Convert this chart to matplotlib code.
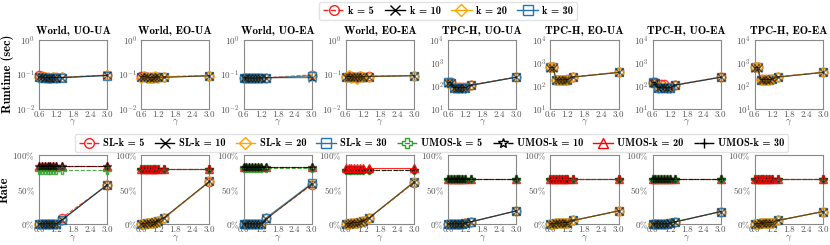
import matplotlib.pyplot as plt
from matplotlib.lines import Line2D
from matplotlib.ticker import NullLocator, FixedLocator

plt.rcParams['font.family'] = 'serif'
plt.rcParams['font.serif'] = ['cmr10']
plt.rcParams['mathtext.fontset'] = 'cm'
plt.rcParams['axes.formatter.use_mathtext'] = True

# gamma values on the x axis
gamma = [0.6, 0.7, 0.8, 0.9, 1.0, 1.1, 1.2, 1.4, 3.0]

titles = ['World, UO-UA', 'World, EO-UA', 'World, UO-EA', 'World, EO-EA',
          'TPC-H, UO-UA', 'TPC-H, EO-UA', 'TPC-H, UO-EA', 'TPC-H, EO-EA']
k_values = [5, 10, 20, 30]

# runtime (sec): one list per k (5, 10, 20, 30)
rt_world_uo_ua = [[0.095, 0.088, 0.085, 0.083, 0.080, 0.086, 0.082, 0.082, 0.095],
                  [0.085, 0.083, 0.080, 0.080, 0.079, 0.080, 0.080, 0.080, 0.093],
                  [0.086, 0.084, 0.081, 0.080, 0.080, 0.081, 0.080, 0.081, 0.093],
                  [0.084, 0.080, 0.076, 0.076, 0.076, 0.078, 0.079, 0.079, 0.092]]
rt_world_eo_ua = [[0.088, 0.090, 0.085, 0.080, 0.082, 0.086, 0.084, 0.085, 0.092],
                  [0.084, 0.086, 0.082, 0.080, 0.080, 0.082, 0.082, 0.082, 0.090],
                  [0.080, 0.092, 0.078, 0.084, 0.076, 0.088, 0.080, 0.084, 0.091],
                  [0.083, 0.085, 0.081, 0.080, 0.080, 0.082, 0.081, 0.082, 0.090]]
rt_world_uo_ea = [[0.080, 0.078, 0.077, 0.076, 0.078, 0.077, 0.078, 0.079, 0.096],
                  [0.079, 0.078, 0.077, 0.077, 0.077, 0.077, 0.078, 0.079, 0.080],
                  [0.079, 0.078, 0.077, 0.077, 0.077, 0.077, 0.078, 0.079, 0.088],
                  [0.080, 0.078, 0.076, 0.076, 0.076, 0.077, 0.078, 0.079, 0.090]]
rt_world_eo_ea = [[0.086, 0.090, 0.088, 0.082, 0.080, 0.088, 0.085, 0.088, 0.092],
                  [0.084, 0.086, 0.084, 0.082, 0.082, 0.084, 0.084, 0.086, 0.091],
                  [0.082, 0.094, 0.080, 0.086, 0.072, 0.090, 0.082, 0.086, 0.092],
                  [0.084, 0.086, 0.083, 0.082, 0.081, 0.084, 0.083, 0.086, 0.091]]
rt_tpch_uo_ua = [[145, 145, 88, 90, 88, 86, 86, 108, 240],
                 [135, 132, 82, 82, 82, 82, 82, 104, 235],
                 [136, 133, 82, 82, 82, 82, 82, 104, 235],
                 [140, 136, 80, 80, 80, 80, 82, 104, 235]]
rt_tpch_eo_ua = [[660, 650, 185, 185, 185, 185, 190, 245, 390],
                 [620, 615, 180, 180, 180, 180, 185, 238, 380],
                 [640, 635, 180, 180, 180, 180, 185, 240, 385],
                 [630, 625, 180, 180, 180, 180, 185, 238, 380]]
rt_tpch_uo_ea = [[140, 140, 85, 118, 118, 88, 88, 110, 240],
                 [135, 135, 82, 85, 85, 82, 82, 106, 235],
                 [136, 135, 82, 85, 85, 82, 82, 106, 235],
                 [140, 136, 80, 82, 82, 80, 80, 106, 235]]
rt_tpch_eo_ea = [[660, 650, 190, 190, 190, 190, 195, 245, 390],
                 [620, 615, 185, 185, 185, 185, 190, 238, 380],
                 [640, 635, 185, 185, 185, 185, 190, 240, 385],
                 [630, 625, 185, 185, 185, 185, 190, 238, 380]]

# rate: SL lists per k (5, 10, 20, 30), then UMOS lists per k
sl_world_uo_ua = [[0, 0, 0, 0, 0, 0, 0, 0.09, 0.56],
                  [0, 0, 0, 0, 0, 0, 0, 0.06, 0.57],
                  [0, 0, 0, 0, 0, 0, 0, 0.06, 0.57],
                  [0, 0, 0, 0, 0, 0, 0, 0.05, 0.57]]
um_world_uo_ua = [[0.78] * 9, [0.84] * 9, [0.84] * 9, [0.84] * 9]
sl_world_eo_ua = [[0, 0.005, 0.01, 0.015, 0.02, 0.03, 0.04, 0.09, 0.61],
                  [0, 0.005, 0.01, 0.015, 0.02, 0.03, 0.04, 0.09, 0.62],
                  [0, 0.005, 0.01, 0.015, 0.02, 0.03, 0.04, 0.08, 0.62],
                  [0, 0.005, 0.01, 0.015, 0.02, 0.03, 0.04, 0.08, 0.62]]
um_world_eo_ua = [[0.80] * 9, [0.80] * 9, [0.80] * 9, [0.80] * 9]
sl_world_uo_ea = [[0, 0, 0, 0, 0, 0, 0, 0.08, 0.57],
                  [0, 0, 0, 0, 0, 0, 0, 0.07, 0.58],
                  [0, 0, 0, 0, 0, 0, 0, 0.08, 0.58],
                  [0, 0, 0, 0, 0, 0, 0, 0.09, 0.59]]
um_world_uo_ea = [[0.82] * 9, [0.83] * 9, [0.83] * 9, [0.83] * 9]
sl_world_eo_ea = [[0, 0.005, 0.01, 0.02, 0.02, 0.03, 0.04, 0.08, 0.60],
                  [0, 0.005, 0.01, 0.02, 0.02, 0.03, 0.04, 0.08, 0.61],
                  [0, 0.005, 0.01, 0.02, 0.02, 0.03, 0.04, 0.08, 0.61],
                  [0, 0.005, 0.01, 0.02, 0.02, 0.03, 0.04, 0.08, 0.61]]
um_world_eo_ea = [[0.79] * 9, [0.79] * 9, [0.81] * 9, [0.79] * 9]
sl_tpch_uo_ua = [[0, 0, 0, 0, 0, 0, 0.01, 0.03, 0.19],
                 [0, 0, 0, 0, 0, 0, 0.01, 0.03, 0.19],
                 [0, 0, 0, 0, 0, 0, 0.01, 0.03, 0.19],
                 [0, 0, 0, 0, 0, 0, 0.01, 0.03, 0.19]]
um_tpch_uo_ua = [[0.65] * 9, [0.65] * 9, [0.65] * 9, [0.65] * 9]
sl_tpch_eo_ua = [[0, 0.005, 0.01, 0.01, 0.015, 0.02, 0.02, 0.05, 0.19],
                 [0, 0.005, 0.01, 0.01, 0.015, 0.02, 0.02, 0.05, 0.19],
                 [0, 0.005, 0.01, 0.01, 0.015, 0.02, 0.02, 0.05, 0.19],
                 [0, 0.005, 0.01, 0.01, 0.015, 0.02, 0.02, 0.05, 0.19]]
um_tpch_eo_ua = [[0.65] * 9, [0.65] * 9, [0.65] * 9, [0.65] * 9]
sl_tpch_uo_ea = [[0, 0, 0, 0, 0, 0, 0.01, 0.03, 0.18],
                 [0, 0, 0, 0, 0, 0, 0.01, 0.03, 0.18],
                 [0, 0, 0, 0, 0, 0, 0.01, 0.03, 0.18],
                 [0, 0, 0, 0, 0, 0, 0.01, 0.03, 0.18]]
um_tpch_uo_ea = [[0.65] * 9, [0.65] * 9, [0.65] * 9, [0.65] * 9]
sl_tpch_eo_ea = [[0, 0.005, 0.01, 0.01, 0.015, 0.02, 0.02, 0.05, 0.18],
                 [0, 0.005, 0.01, 0.01, 0.015, 0.02, 0.02, 0.05, 0.18],
                 [0, 0.005, 0.01, 0.01, 0.015, 0.02, 0.02, 0.05, 0.18],
                 [0, 0.005, 0.01, 0.01, 0.015, 0.02, 0.02, 0.05, 0.18]]
um_tpch_eo_ea = [[0.65] * 9, [0.65] * 9, [0.65] * 9, [0.65] * 9]

runtimes = [rt_world_uo_ua, rt_world_eo_ua, rt_world_uo_ea, rt_world_eo_ea,
            rt_tpch_uo_ua, rt_tpch_eo_ua, rt_tpch_uo_ea, rt_tpch_eo_ea]
sl_rates = [sl_world_uo_ua, sl_world_eo_ua, sl_world_uo_ea, sl_world_eo_ea,
            sl_tpch_uo_ua, sl_tpch_eo_ua, sl_tpch_uo_ea, sl_tpch_eo_ea]
um_rates = [um_world_uo_ua, um_world_eo_ua, um_world_uo_ea, um_world_eo_ea,
            um_tpch_uo_ua, um_tpch_eo_ua, um_tpch_uo_ea, um_tpch_eo_ea]

# (color, marker, linestyle) per k
sl_style = [('#ff2020', 'o', '--'), ('black', 'x', '-'),
            ('#ffa500', 'D', '-'), ('#1f77b4', 's', '-')]
um_style = [('#2ca02c', 'P', '--'), ('black', '*', '-.'),
            ('#ff0000', '^', '-'), ('black', '+', '--')]

fig, axes = plt.subplots(2, 8, figsize=(8.3, 2.45), dpi=100)
fig.subplots_adjust(left=0.047, right=0.9916, top=0.837, bottom=0.086,
                    wspace=0.5, hspace=0.68)

gray = '#555555'


def style_axis(ax):
    for sp in ax.spines.values():
        sp.set_color('#888888')
        sp.set_linewidth(0.8)
    ax.tick_params(labelsize=6.5, colors=gray, length=0)
    ax.tick_params(axis='x', pad=1.5)
    ax.tick_params(axis='y', pad=3)
    ax.set_xlim(0.6, 3.0)
    ax.set_xticks([0.6, 1.2, 1.8, 2.4, 3.0])
    ax.set_xticklabels(['0.6', '1.2', '1.8', '2.4', '3.0'])
    ax.set_xlabel(r'$\gamma$', fontsize=7, color=gray, labelpad=-1)


def marker_kw(c, m, ms=6):
    hollow = m not in ('x', '+')
    return dict(color=c, marker=m, ms=ms if m != 'D' else ms - 1,
                mfc='none' if hollow else c, mec=c, mew=1.0)


def draw(ax, series, styles, order):
    for z, i in enumerate(order):
        c, m, ls = styles[i]
        # black lines are lighter so the coloured ones show through
        alpha = 0.55 if c == 'black' else 0.85
        ax.plot(gamma, series[i], ls=ls, lw=0.8, alpha=alpha,
                clip_on=False, zorder=3 + z, **marker_kw(c, m))


for j in range(8):
    eo = (j % 2 == 1)
    # top row: runtime
    ax = axes[0, j]
    order = [0, 3, 2, 1] if eo else [0, 2, 3, 1]
    draw(ax, runtimes[j], sl_style, order)
    ax.set_yscale('log')
    if j < 4:
        ax.set_ylim(1e-2, 1e0)
        ax.yaxis.set_major_locator(FixedLocator([1e-2, 1e-1, 1e0]))
    else:
        ax.set_ylim(1e1, 1e4)
        ax.yaxis.set_major_locator(FixedLocator([1e1, 1e2, 1e3, 1e4]))
    ax.yaxis.set_minor_locator(NullLocator())
    ax.set_title(titles[j], fontsize=8, fontfamily='cmb10', pad=4)
    style_axis(ax)

    # bottom row: rate
    ax = axes[1, j]
    sl_order = [0, 3, 2, 1] if eo else [0, 2, 3, 1]
    draw(ax, sl_rates[j], sl_style, sl_order)
    um_order = [0, 1, 3, 2] if eo else [2, 0, 3, 1]
    draw(ax, um_rates[j], um_style, um_order)
    ax.set_ylim(0, 1)
    ax.set_yticks([0, 0.5, 1.0])
    ax.set_yticklabels([r'$0\%$', r'$50\%$', r'$100\%$'])
    style_axis(ax)

axes[0, 0].set_ylabel('Runtime (sec)', fontsize=9, fontfamily='cmb10', labelpad=1)
axes[1, 0].set_ylabel('Rate', fontsize=9, fontfamily='cmb10', labelpad=1)

# legend handles drawn at full strength
sl_handles = [Line2D([], [], ls=ls, lw=1.0, **marker_kw(c, m, 7)) for c, m, ls in sl_style]
um_handles = [Line2D([], [], ls=ls, lw=1.0, **marker_kw(c, m, 7)) for c, m, ls in um_style]

leg_font = {'family': 'cmb10', 'size': 7.5}
fig.legend(sl_handles, ['k = %d' % k for k in k_values],
           loc='center', bbox_to_anchor=(0.54, 0.955), ncol=4, prop=leg_font,
           handlelength=2.0, columnspacing=1.0, handletextpad=0.4,
           borderpad=0.4, frameon=True, edgecolor='#dddddd')

labels = ['SL-k = %d' % k for k in k_values] + ['UMOS-k = %d' % k for k in k_values]
fig.legend(sl_handles + um_handles, labels,
           loc='center', bbox_to_anchor=(0.52, 0.415), ncol=8, prop=leg_font,
           handlelength=1.9, columnspacing=1.0, handletextpad=0.4,
           borderpad=0.4, frameon=True, edgecolor='#dddddd')

plt.savefig('out.png', dpi=100)
